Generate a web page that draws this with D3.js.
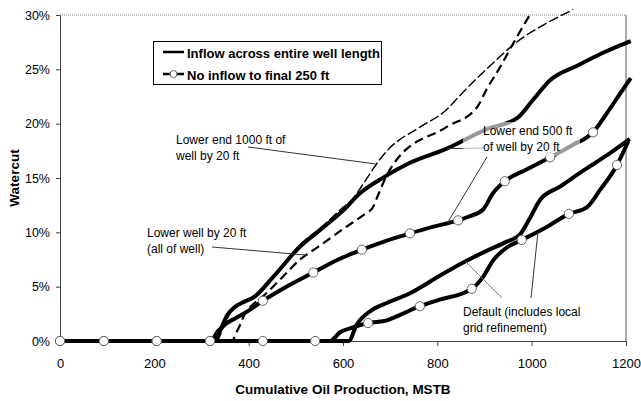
<!DOCTYPE html>
<html>
<head>
<meta charset="utf-8">
<script src="https://cdn.jsdelivr.net/npm/d3@7"></script>
<style>
  body { margin: 0; background: #fff; }
  svg { display: block; font-family: "Liberation Sans", Arial, sans-serif; }
</style>
</head>
<body>
<svg id="chart" width="641" height="401"></svg>
<script>
// Axis ticks
const xTicks = [0, 200, 400, 600, 800, 1000, 1200];
const yTicks = [0, 5, 10, 15, 20, 25, 30];

// Default (includes local grid refinement) — inflow across entire well length
const defSolidCum = [0, 612, 629, 661, 693, 742, 805, 854, 900, 945, 975, 995, 1018, 1060, 1110, 1160, 1208];
const defSolidWc  = [0, 0, 1.5, 2.85, 3.5, 4.4, 6.0, 7.2, 8.2, 9.1, 9.8, 11.2, 13.0, 14.2, 15.7, 17.1, 18.6];

// Default — no inflow to final 250 ft
const defMarkCum = [0, 93, 205, 318, 430, 541, 572, 594, 618, 653, 693, 721, 763, 805, 873, 897, 918, 947, 979, 1032, 1079, 1117, 1145, 1181, 1205];
const defMarkWc  = [0, 0, 0, 0, 0, 0, 0, 0.8, 1.2, 1.65, 1.9, 2.4, 3.2, 3.8, 4.8, 5.9, 7.4, 8.6, 9.3, 10.5, 11.7, 12.3, 13.9, 16.2, 18.4];
const defMarkAt  = [0, 93, 205, 318, 430, 541, 653, 763, 873, 979, 1079, 1181];

// Lower end 500 ft of well by 20 ft — inflow across entire well length
const low500SolidCum = [0, 328, 340, 355, 370, 390, 410, 452, 509, 551, 600, 636, 680, 742, 820, 905, 969, 1003, 1039, 1100, 1150, 1210];
const low500SolidWc  = [0, 0, 1.0, 2.4, 3.1, 3.6, 4.0, 5.9, 8.7, 10.2, 12.0, 13.6, 14.9, 16.4, 17.7, 19.5, 20.5, 22.2, 24.0, 25.4, 26.5, 27.6];

// Lower end 500 ft of well by 20 ft — no inflow to final 250 ft
const low500MarkCum = [0, 93, 205, 318, 335, 352, 372, 400, 430, 480, 537, 590, 640, 690, 742, 790, 844, 870, 897, 918, 943, 990, 1039, 1085, 1130, 1160, 1185, 1210];
const low500MarkWc  = [0, 0, 0, 0, 0.9, 1.6, 2.1, 2.8, 3.7, 5.0, 6.3, 7.5, 8.4, 9.2, 9.9, 10.5, 11.1, 11.5, 12.1, 13.6, 14.7, 15.8, 16.9, 18.0, 19.2, 21.0, 22.6, 24.2];
const low500MarkAt  = [0, 93, 205, 318, 430, 537, 640, 742, 844, 943, 1039, 1130];

// Lower end 1000 ft of well by 20 ft
const low1000Cum = [0, 332, 345, 360, 375, 395, 415, 455, 510, 555, 600, 621, 642, 678, 700, 760, 820, 848, 926, 965, 1030, 1088];
const low1000Wc  = [0, 0, 1.1, 2.5, 3.2, 3.7, 4.2, 6.1, 8.9, 10.5, 12.3, 13.1, 14.4, 16.7, 17.8, 19.6, 21.3, 22.6, 25.9, 27.4, 29.2, 30.5];

// Lower well by 20 ft (all of well)
const lowAllCum = [0, 365, 372, 382, 392, 405, 430, 470, 509, 545, 600, 650, 662, 676, 690, 714, 820, 884, 905, 933, 961, 1000];
const lowAllWc  = [0, 0, 0.6, 1.5, 2.5, 3.2, 4.1, 5.8, 7.5, 8.6, 10.3, 11.8, 12.2, 13.6, 15.0, 16.7, 19.7, 21.5, 23.2, 25.2, 27.4, 30.3];

const plot = { left: 60, right: 626, top: 15, bottom: 341 };

const x = d3.scaleLinear().domain([0, 1200]).range([plot.left, plot.right]);
const y = d3.scaleLinear().domain([0, 30]).range([plot.bottom, plot.top]);

const svg = d3.select("#chart");
const zip = (c, w) => c.map((v, i) => ({ c: v, w: w[i] }));

// Plot-area border: dotted top, thin right
svg.append("line").attr("x1", plot.left).attr("x2", plot.right)
  .attr("y1", plot.top).attr("y2", plot.top)
  .attr("stroke", "#777").attr("stroke-width", 1).attr("stroke-dasharray", "1,1");
svg.append("line").attr("x1", plot.right).attr("x2", plot.right)
  .attr("y1", plot.top).attr("y2", plot.bottom)
  .attr("stroke", "#555").attr("stroke-width", 1);

// Axes
const yAxis = d3.axisLeft(y).tickValues(yTicks).tickFormat(d => d + "%")
  .tickSize(4).tickSizeOuter(0).tickPadding(6);
const gy = svg.append("g").attr("transform", `translate(${plot.left},0)`).call(yAxis);
gy.selectAll("text").attr("font-size", 12.5).attr("fill", "#000")
  .attr("font-family", "'Liberation Sans', Arial, sans-serif");
gy.selectAll("line, path").attr("stroke", "#444");

const xAxis = d3.axisBottom(x).tickValues(xTicks).tickFormat(d3.format("d"))
  .tickSize(5).tickSizeOuter(0).tickPadding(13);
const gx = svg.append("g").attr("transform", `translate(0,${plot.bottom})`).call(xAxis);
gx.selectAll("text").attr("font-size", 13).attr("fill", "#000")
  .attr("font-family", "'Liberation Sans', Arial, sans-serif");
gx.selectAll("line, path").attr("stroke", "#444");

// Axis titles
svg.append("text").attr("x", (plot.left + plot.right) / 2).attr("y", 394)
  .attr("text-anchor", "middle").attr("font-size", 13.5).attr("font-weight", "bold")
  .text("Cumulative Oil Production, MSTB");
svg.append("text").attr("transform", `translate(19,${(plot.top + plot.bottom) / 2}) rotate(-90)`)
  .attr("text-anchor", "middle").attr("font-size", 13.5).attr("font-weight", "bold")
  .text("Watercut");

// Series
const line = d3.line().x(d => x(d.c)).y(d => y(d.w)).curve(d3.curveMonotoneX);

const series = [
  { data: zip(lowAllCum, lowAllWc), width: 2.2, dash: "9,5" },
  { data: zip(low1000Cum, low1000Wc), width: 1.4, dash: "10,3" },
  { data: zip(defSolidCum, defSolidWc), width: 4, dash: null },
  { data: zip(low500SolidCum, low500SolidWc), width: 4, dash: null },
  { data: zip(defMarkCum, defMarkWc), width: 4, dash: null, marks: defMarkAt },
  { data: zip(low500MarkCum, low500MarkWc), width: 4, dash: null, marks: low500MarkAt }
];

series.forEach(s => {
  svg.append("path").datum(s.data)
    .attr("d", line).attr("fill", "none").attr("stroke", "#000")
    .attr("stroke-width", s.width).attr("stroke-linejoin", "round")
    .attr("stroke-dasharray", s.dash);
});

series.filter(s => s.marks).forEach(s => {
  const pts = s.data.filter(d => s.marks.includes(d.c));
  svg.selectAll(null).data(pts).enter().append("circle")
    .attr("cx", d => x(d.c)).attr("cy", d => y(d.w)).attr("r", 4.6)
    .attr("fill", "#fff").attr("stroke", "#666").attr("stroke-width", 1);
});

// Annotation leaders
const leader = (x1, y1, x2, y2, col) => svg.append("line")
  .attr("x1", x1).attr("y1", y1).attr("x2", x2).attr("y2", y2)
  .attr("stroke", col || "#333").attr("stroke-width", 1);

leader(248, 147, x(668), y(16.3));            // Lower end 1000 ft
leader(212, 247, x(524), y(7.9));             // Lower well by 20 ft
leader(x(820), y(17.7), 483, 148);            // Lower end 500 ft

// Text box of the 500 ft note partly veils the curves beneath it
svg.append("rect").attr("x", 463).attr("y", 122).attr("width", 117).attr("height", 34)
  .attr("fill", "#fff").attr("fill-opacity", 0.6);

leader(487, 157, x(822), y(10.9));            // Lower end 500 ft, lower curve
leader(502, 298, x(860), y(7.3), "#888");     // Default, upper curve
leader(531, 298, x(1013), y(9.9));            // Default, lower curve

// Annotation texts
const ann = svg.append("g").attr("font-size", 12).attr("fill", "#000");
const note = (tx, ty, str) => ann.append("text").attr("x", tx).attr("y", ty).text(str);
note(176, 144, "Lower end 1000 ft of");
note(176, 160, "well by 20 ft");
note(147, 237, "Lower well by 20 ft");
note(147, 253, "(all of well)");
note(483, 135, "Lower end 500 ft");
note(483, 151, "of well by 20 ft");
note(463, 316, "Default (includes local");
note(463, 332, "grid refinement)");

// Legend
const lg = svg.append("g");
lg.append("rect").attr("x", 153.5).attr("y", 41.5).attr("width", 228).attr("height", 43)
  .attr("fill", "#fff").attr("stroke", "#000").attr("stroke-width", 1);
lg.append("line").attr("x1", 163).attr("x2", 184).attr("y1", 52).attr("y2", 52)
  .attr("stroke", "#000").attr("stroke-width", 2.5);
lg.append("line").attr("x1", 163).attr("x2", 184).attr("y1", 74).attr("y2", 74)
  .attr("stroke", "#000").attr("stroke-width", 2.5);
lg.append("circle").attr("cx", 173.5).attr("cy", 74).attr("r", 3.5)
  .attr("fill", "#fff").attr("stroke", "#666").attr("stroke-width", 1);
lg.append("text").attr("x", 187).attr("y", 57.5).attr("font-size", 13).attr("font-weight", "bold")
  .text("Inflow across entire well length");
lg.append("text").attr("x", 187).attr("y", 80).attr("font-size", 13).attr("font-weight", "bold")
  .text("No inflow to final 250 ft");
</script>
</body>
</html>
